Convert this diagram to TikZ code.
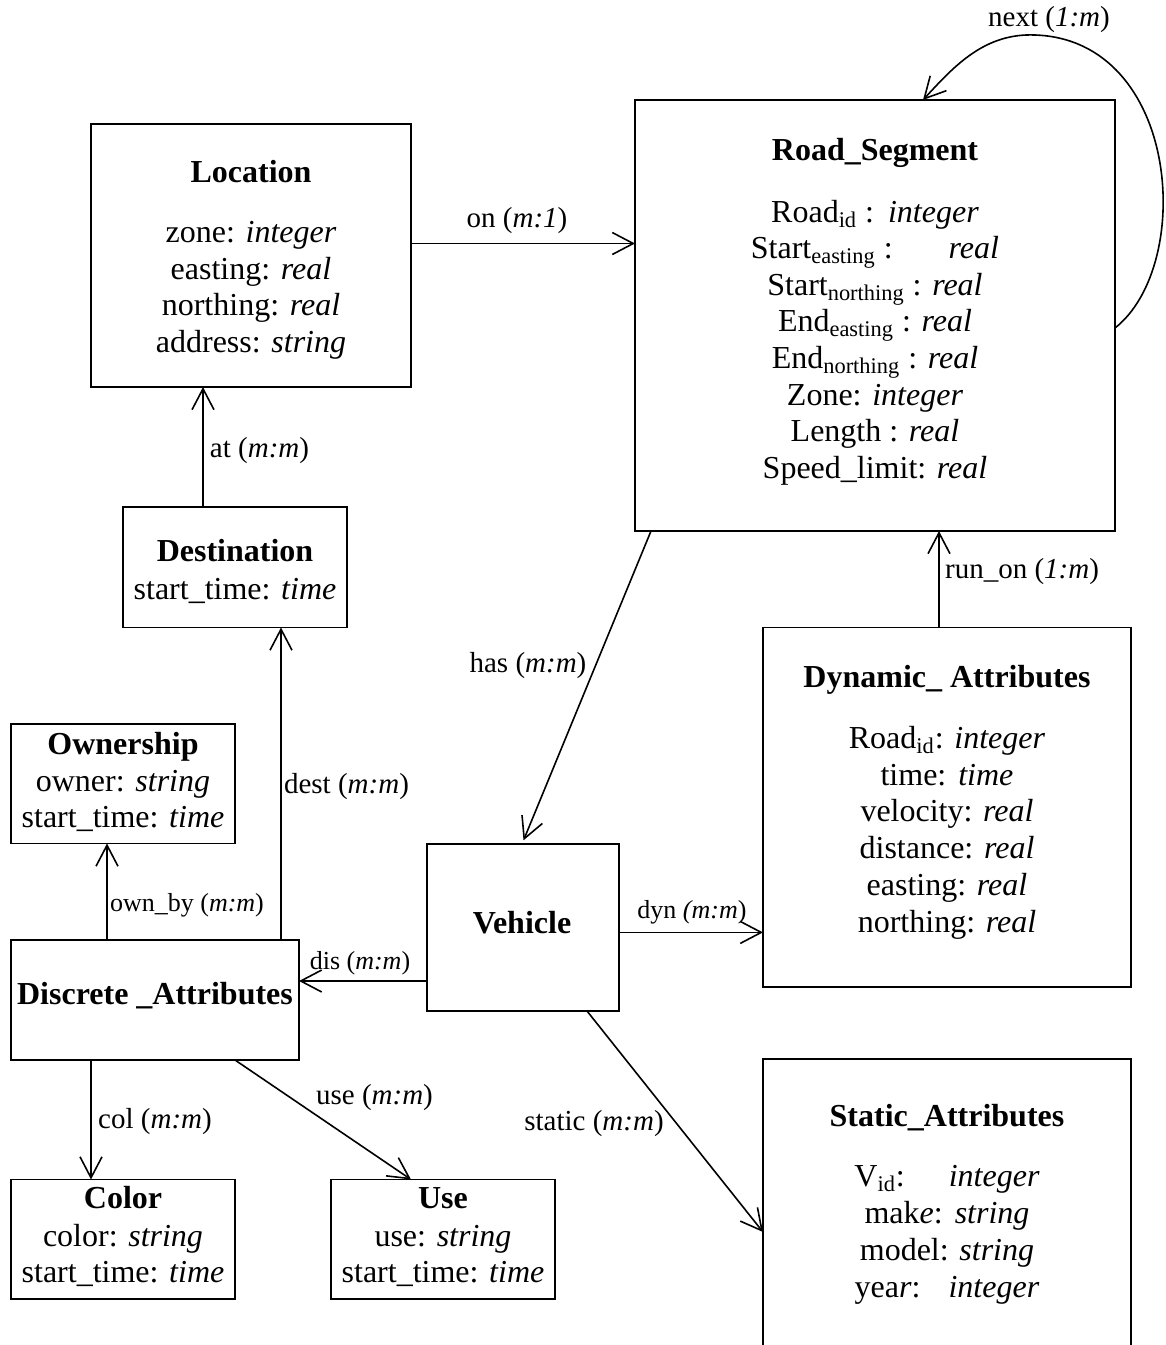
\documentclass[tikz,border=0pt]{standalone}
\usepackage{fontspec}
\setmainfont{Liberation Serif}
\usetikzlibrary{arrows.meta}
\begin{document}
\begin{tikzpicture}[x=0.5pt,y=-0.5pt,
  box/.style={draw, line width=0.9pt, rectangle, inner sep=0pt, outer sep=0pt},
  conn/.style={line width=0.8pt, -{Straight Barb[length=10.5pt,width=11pt]}},
  ttl/.style={anchor=base, inner sep=0pt, font=\fontsize{16}{18}\selectfont\bfseries},
  attr/.style={anchor=base, inner sep=0pt, font=\fontsize{16}{18}\selectfont},
  lbl/.style={anchor=base, inner sep=0pt, font=\fontsize{14.5}{17}\selectfont},
  slbl/.style={anchor=base, inner sep=0pt, font=\fontsize{13}{15}\selectfont}]
\fill[white] (0,0) rectangle (1166,1345);
\useasboundingbox (0,0) rectangle (1166,1345);

% ---------- boxes ----------
\node[box, minimum width=160pt, minimum height=131.5pt] (loc) at (251,255.5) {};
\node[box, minimum width=240pt, minimum height=215.5pt] (road) at (875,315.5) {};
\node[box, minimum width=112pt, minimum height=60.25pt] (dest) at (235,567.25) {};
\node[box, minimum width=112pt, minimum height=59.75pt] (own) at (123,783.75) {};
\node[box, minimum width=144pt, minimum height=60pt] (disc) at (155,1000) {};
\node[box, minimum width=96pt, minimum height=83.5pt] (veh) at (523,927.5) {};
\node[box, minimum width=184pt, minimum height=179.75pt] (dyn) at (947,807.25) {};
\node[box, minimum width=112pt, minimum height=59.75pt] (color) at (123,1239.25) {};
\node[box, minimum width=112pt, minimum height=59.75pt] (use) at (443,1239.25) {};
\node[draw=none, rectangle, inner sep=0pt, outer sep=0pt, minimum width=184pt, minimum height=145.5pt] (stat) at (947,1204.5) {};
\draw[line width=0.9pt] (stat.south west) |- (stat.north east) -- (stat.south east);

% ---------- texts: Location ----------
\node[ttl] (locT) at (251,182) {Location};
\node[attr] (loc1) at (251,242.4) {zone: \textit{integer}};
\node[attr] (loc2) at (251,279) {easting: \textit{real}};
\node[attr] (loc3) at (251,315.5) {northing: \textit{real}};
\node[attr] (loc4) at (251,352) {address: \textit{string}};

% ---------- Road_Segment ----------
\node[ttl] (roadT) at (875,160.6) {Road\_Segment};
\node[attr] (road1) at (875,222) {Road\textsubscript{id} :\hspace{7pt}\textit{integer}};
\node[attr] (road2) at (875,258.6) {Start\textsubscript{easting} :\hspace{28pt}\textit{real}};
\node[attr] (road3) at (875,295.2) {Start\textsubscript{northing} : \textit{real}};
\node[attr] (road4) at (875,331.8) {End\textsubscript{easting} : \textit{real}};
\node[attr] (road5) at (875,368.4) {End\textsubscript{northing} : \textit{real}};
\node[attr] (road6) at (875,405) {Zone: \textit{integer}};
\node[attr] (road7) at (875,441.6) {Length : \textit{real}};
\node[attr] (road8) at (875,478.2) {Speed\_limit: \textit{real}};

% ---------- Destination ----------
\node[ttl] (destT) at (235,561) {Destination};
\node[attr] (dest1) at (235,599.6) {start\_time: \textit{time}};

% ---------- Ownership ----------
\node[ttl] (ownT) at (123,754) {Ownership};
\node[attr] (own1) at (123,791) {owner: \textit{string}};
\node[attr] (own2) at (123,827) {start\_time: \textit{time}};

% ---------- Discrete / Vehicle ----------
\node[ttl] (discT) at (155,1004) {Discrete \_Attributes};
\node[ttl] (vehT) at (522,933) {Vehicle};

% ---------- Dynamic ----------
\node[ttl] (dynT) at (947,687.7) {Dynamic\_ Attributes};
\node[attr] (dyn1) at (947,748) {Road\textsubscript{id}: \textit{integer}};
\node[attr] (dyn2) at (947,785.5) {time:\hspace{6pt}\textit{time}};
\node[attr] (dyn3) at (947,821.6) {velocity: \textit{real}};
\node[attr] (dyn4) at (947,858.8) {distance: \textit{real}};
\node[attr] (dyn5) at (947,895) {easting: \textit{real}};
\node[attr] (dyn6) at (947,932.4) {northing: \textit{real}};

% ---------- Static ----------
\node[ttl] (statT) at (947,1126) {Static\_Attributes};
\node[attr] (stat1) at (947,1186) {V\textsubscript{id}:\hspace{22pt}\textit{integer}};
\node[attr] (stat2) at (947,1223) {mak\textit{e}:\hspace{6pt}\textit{string}};
\node[attr] (stat3) at (947,1260) {model: \textit{string}};
\node[attr] (stat4) at (947,1297) {yea\textit{r}:\hspace{14pt}\textit{integer}};

% ---------- Color / Use ----------
\node[ttl] (colorT) at (123,1208) {Color};
\node[attr] (color1) at (123,1246) {color: \textit{string}};
\node[attr] (color2) at (123,1282.5) {start\_time: \textit{time}};
\node[ttl] (useT) at (443,1208) {Use};
\node[attr] (use1) at (443,1246) {use: \textit{string}};
\node[attr] (use2) at (443,1282.5) {start\_time: \textit{time}};

% ---------- connectors ----------
\draw[conn] (loc.east |- 0,243.5) -- (road.west |- 0,243.5);
\draw[conn] (road.east |- 0,328) .. controls (1195,265) and (1180,40) .. (1035,35)
            .. controls (985,33) and (955,65) .. (road.north -| 923,0);
\draw[conn, shorten >=2pt] (road.south -| 651,0) -- (veh.north -| 522,0);
\draw[conn] (dyn.north -| 939,0) -- (road.south -| 939,0);
\draw[conn] (veh.east |- 0,932.4) -- (dyn.west |- 0,932.4);
\draw[conn] (veh.south -| 587,0) -- (stat.west |- 0,1232);
\draw[conn] (veh.west |- 0,981) -- (disc.east |- 0,981);
\draw[conn] (disc.north -| 281,0) -- (dest.south -| 281,0);
\draw[conn] (disc.north -| 107,0) -- (own.south -| 107,0);
\draw[conn] (dest.north -| 203,0) -- (loc.south -| 203,0);
\draw[conn] (disc.south -| 91,0) -- (color.north -| 91,0);
\draw[conn] (disc.south -| 235,0) -- (use.north -| 411,0);

% ---------- connector labels ----------
\node[lbl] (lOn) at (517,227) {on (\textit{m:1})};
\node[lbl] (lNext) at (1049,26) {next (\textit{1:m})};
\node[lbl] (lAt) at (259.5,457) {at (\textit{m:m})};
\node[lbl] (lHas) at (528,672) {has (\textit{m:m})};
\node[lbl] (lRun) at (1022,578) {run\_on (\textit{1:m})};
\node[lbl] (lDest) at (346.5,793) {dest (\textit{m:m})};
\node[slbl] (lOwn) at (187,911) {own\_by (\textit{m:m})};
\node[slbl] (lDis) at (360,969) {dis (\textit{m:m})};
\node[slbl] (lDyn) at (692,918) {dyn \textit{(m:m})};
\node[lbl] (lCol) at (155,1128) {col (\textit{m:m})};
\node[lbl] (lUse) at (374.5,1104) {use (\textit{m:m})};
\node[lbl] (lStat) at (594,1130) {static (\textit{m:m})};
\end{tikzpicture}
\end{document}
